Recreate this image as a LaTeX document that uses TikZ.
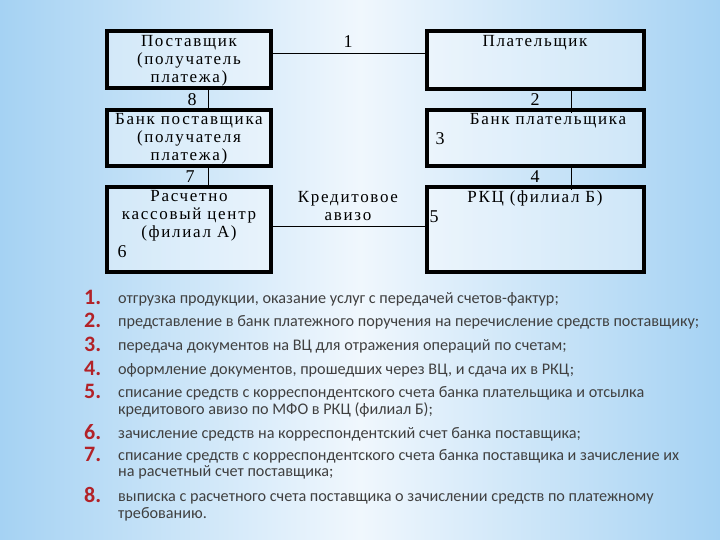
\documentclass[tikz,border=0pt]{standalone}
\usepackage{fontspec}
\setmainfont{Liberation Serif}
\newfontfamily\boxfont[LetterSpace=10]{Liberation Serif}
\newfontfamily\listfont{Carlito}
\definecolor{bgedge}{RGB}{165,210,243}
\definecolor{bgmid}{RGB}{240,247,253}
\definecolor{numred}{RGB}{178,34,40}
\definecolor{listgray}{RGB}{64,64,64}
\tikzset{
  box/.style={draw=black, line width=3.2pt, fill=white, fill opacity=0.35, text opacity=1, inner sep=0pt},
  btxt/.style={inner sep=0pt, align=center, font=\boxfont\fontsize{17}{18}\selectfont},
  lbl/.style={inner sep=0pt, font=\boxfont\fontsize{18}{18}\selectfont},
  conn/.style={draw=black, line width=0.8pt},
  num/.style={inner sep=0pt, anchor=base west, text=numred, font=\listfont\bfseries\fontsize{22}{22}\selectfont},
  itm/.style={inner sep=0pt, anchor=base west, text=listgray, font=\listfont\fontsize{16.2}{17}\selectfont}
}
\begin{document}
\begin{tikzpicture}[x=1pt,y=-1pt]
\shade[left color=bgedge, right color=bgedge, middle color=bgmid] (0,0) rectangle (720,540);
\useasboundingbox (0,0) rectangle (720,540);

% boxes
\node[box, minimum width=164pt, minimum height=57pt] (sup) at (189,59.5) {};
\node[box, minimum width=217pt, minimum height=58pt] (pay) at (535.5,60) {};
\node[box, minimum width=164pt, minimum height=56pt] (bsup) at (189,138) {};
\node[box, minimum width=217pt, minimum height=56pt] (bpay) at (535.5,138) {};
\node[box, minimum width=164pt, minimum height=85pt] (rkca) at (189,229.5) {};
\node[box, minimum width=217pt, minimum height=85pt] (rkcb) at (535.5,229.5) {};

% box texts
\node[btxt, anchor=north] (tsup) at (189,35.5) {Поставщик\\(получатель\\платежа)};
\node[btxt, anchor=north] (tpay) at (535,35.5) {Плательщик};
\node[btxt, anchor=north] (tbsup) at (189,113.5) {Банк поставщика\\(получателя\\платежа)};
\node[btxt, anchor=north] (tbpay) at (548,113.5) {Банк плательщика};
\node[btxt, anchor=north] (trkca) at (189,190.5) {Расчетно\\кассовый центр\\(филиал А)};
\node[btxt, anchor=north] (trkcb) at (535,190.5) {РКЦ (филиал Б)};

% connectors
\draw[conn] ([yshift=6.5pt]sup.east) -- ([yshift=6.5pt]sup.east -| pay.west);
\draw[conn] ([yshift=3.5pt]rkca.east) -- ([yshift=3.5pt]rkca.east -| rkcb.west);
\draw[conn] ([xshift=19pt]sup.south) -- ([xshift=19pt]sup.south |- bsup.north);
\draw[conn] ([xshift=19pt]bsup.south) -- ([xshift=19pt]bsup.south |- rkca.north);
\draw[conn, shorten >=-5pt] ([xshift=35.5pt]pay.south) -- ([xshift=35.5pt]pay.south |- bpay.north);
\draw[conn, shorten >=-5pt] ([xshift=35.5pt]bpay.south) -- ([xshift=35.5pt]bpay.south |- rkcb.north);

% labels
\node[lbl] (l1) at (348,42) {1};
\node[lbl] (l8) at (192,100) {8};
\node[lbl] (l2) at (535,100) {2};
\node[lbl] (l7) at (190,177) {7};
\node[lbl] (l4) at (535,177) {4};
\node[lbl] (l3) at (440,139) {3};
\node[lbl] (l5) at (434,217) {5};
\node[lbl] (l6) at (122,252) {6};
\node[btxt, anchor=north] (lavizo) at (348,191.5) {Кредитовое\\авизо};

% list
\node[num] (n1) at (84,304) {1.};
\node[itm] (i1) at (118,303) {отгрузка продукции, оказание услуг с передачей счетов-фактур;};
\node[num] (n2) at (84,327) {2.};
\node[itm] (i2) at (118,326) {представление в банк платежного поручения на перечисление средств поставщику;};
\node[num] (n3) at (84,351) {3.};
\node[itm] (i3) at (118,350) {передача документов на ВЦ для отражения операций по счетам;};
\node[num] (n4) at (84,375) {4.};
\node[itm] (i4) at (118,374) {оформление документов, прошедших через ВЦ, и сдача их в РКЦ;};
\node[num] (n5) at (84,398) {5.};
\node[itm] (i5a) at (118,397) {списание средств с корреспондентского счета банка плательщика и отсылка};
\node[itm] (i5b) at (118,414) {кредитового авизо по МФО в РКЦ (филиал Б);};
\node[num] (n6) at (84,439) {6.};
\node[itm] (i6) at (118,438) {зачисление средств на корреспондентский счет банка поставщика;};
\node[num] (n7) at (84,461) {7.};
\node[itm] (i7a) at (118,460) {списание средств с корреспондентского счета банка поставщика и зачисление их};
\node[itm] (i7b) at (118,476) {на расчетный счет поставщика;};
\node[num] (n8) at (84,502) {8.};
\node[itm] (i8a) at (118,501) {выписка с расчетного счета поставщика о зачислении средств по платежному};
\node[itm] (i8b) at (118,518) {требованию.};
\end{tikzpicture}
\end{document}
